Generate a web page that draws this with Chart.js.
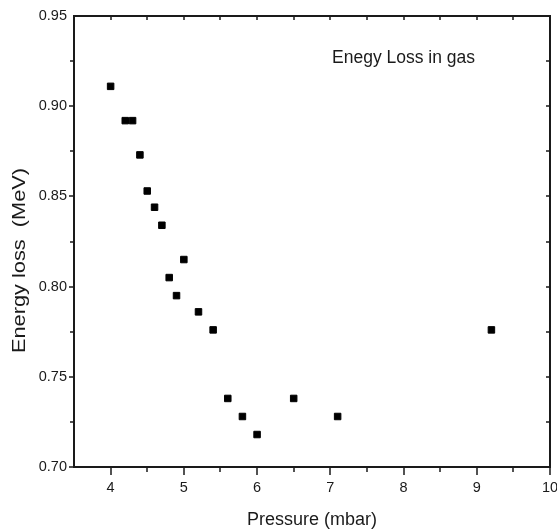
<!DOCTYPE html>
<html>
<head>
<meta charset="utf-8">
<script src="https://cdn.jsdelivr.net/npm/chart.js@4.4.1/dist/chart.umd.min.js"></script>
<style>
  html, body { margin: 0; padding: 0; background: #fff; }
  #wrap { width: 557px; height: 531px; position: relative; }
</style>
</head>
<body>
<div id="wrap"><canvas id="c"></canvas></div>
<script>
// ---- data ----
const pressure = [4.0, 4.2, 4.3, 4.4, 4.5, 4.6, 4.7, 4.8, 4.9, 5.0, 5.2, 5.4, 5.6, 5.8, 6.0, 6.5, 7.1, 9.2];
const energyLoss = [0.911, 0.892, 0.892, 0.873, 0.853, 0.844, 0.834, 0.805, 0.795, 0.815, 0.786, 0.776, 0.738, 0.728, 0.718, 0.738, 0.728, 0.776];
const xTickLabels = [4, 5, 6, 7, 8, 9, 10];
const yTickLabels = [0.70, 0.75, 0.80, 0.85, 0.90, 0.95];
const xRange = [3.5, 10];
const yRange = [0.70, 0.95];
const annotationText = 'Enegy Loss in gas';
const annotationPos = [8.0, 0.9265];
const xTitle = 'Pressure (mbar)';
const yTitle = 'Energy loss  (MeV)';

const FONT = "'Liberation Sans', Arial, sans-serif";
const INK = '#1a1a1a';

const points = pressure.map((x, i) => ({ x: x, y: energyLoss[i] }));

const framePlugin = {
  id: 'frameTicks',
  afterDraw(chart) {
    const ctx = chart.ctx;
    const a = chart.chartArea;
    const xs = chart.scales.x, ys = chart.scales.y;
    ctx.save();
    ctx.strokeStyle = INK;
    // ticks
    ctx.lineWidth = 1.5;
    ctx.beginPath();
    const nx = Math.round((xRange[1] - xRange[0]) / 0.5);
    for (let k = 1; k <= nx; k++) {
      const v = xRange[0] + k * 0.5;
      const px = Math.round(xs.getPixelForValue(v));
      const major = Math.abs(v - Math.round(v)) < 1e-6;
      ctx.moveTo(px, a.bottom);
      ctx.lineTo(px, a.bottom + (major ? 8 : 5));
      if (k < nx) {
        ctx.moveTo(px, a.top);
        ctx.lineTo(px, a.top + 4);
      }
    }
    const ny = Math.round((yRange[1] - yRange[0]) / 0.025);
    for (let k = 0; k <= ny; k++) {
      const v = yRange[0] + k * 0.025;
      const py = Math.round(ys.getPixelForValue(v));
      const major = k % 2 === 0;
      if (k < ny) {
        ctx.moveTo(a.left, py);
        ctx.lineTo(a.left - (major ? 5 : 4), py);
      }
      if (k > 0 && k < ny) {
        ctx.moveTo(a.right, py);
        ctx.lineTo(a.right - 4, py);
      }
    }
    ctx.stroke();
    // frame
    ctx.lineWidth = 2;
    ctx.strokeRect(a.left, a.top, a.right - a.left, a.bottom - a.top);
    // annotation
    ctx.fillStyle = INK;
    ctx.font = "17.5px " + FONT;
    ctx.textAlign = 'center';
    ctx.textBaseline = 'middle';
    ctx.fillText(annotationText, xs.getPixelForValue(annotationPos[0]), ys.getPixelForValue(annotationPos[1]));
    // y axis title (rotated, slightly elongated as in the source figure)
    ctx.font = "18px " + FONT;
    const w = ctx.measureText(yTitle).width;
    const targetLen = 185;
    ctx.translate(20, 260.5);
    ctx.rotate(-Math.PI / 2);
    ctx.scale(targetLen / w, 1);
    ctx.fillText(yTitle, 0, 0);
    ctx.restore();
  }
};

new Chart(document.getElementById('c'), {
  type: 'scatter',
  data: {
    datasets: [{
      data: points,
      pointStyle: 'rect',
      pointRadius: 4.6,
      pointHoverRadius: 4.6,
      backgroundColor: '#000',
      borderColor: '#000',
      borderWidth: 1
    }]
  },
  options: {
    responsive: true,
    maintainAspectRatio: false,
    animation: false,
    events: [],
    layout: { padding: { top: 16, right: 7, left: 0, bottom: 0 } },
    plugins: { legend: { display: false }, tooltip: { enabled: false } },
    scales: {
      x: {
        type: 'linear',
        min: xRange[0], max: xRange[1],
        afterBuildTicks(scale) { scale.ticks = xTickLabels.map(v => ({ value: v })); },
        afterFit(scale) { scale.height = 64; scale.paddingRight = 0; scale.paddingLeft = 0; },
        grid: { display: false, drawTicks: false },
        border: { display: false },
        ticks: {
          color: INK,
          font: { family: FONT, size: 14.5 },
          padding: 12,
          maxRotation: 0,
          autoSkip: false,
          callback: v => String(v)
        },
        title: {
          display: true, text: xTitle, color: INK,
          font: { family: FONT, size: 18, lineHeight: 1.2 },
          padding: { top: 0, bottom: 0 }
        }
      },
      y: {
        type: 'linear',
        min: yRange[0], max: yRange[1],
        afterBuildTicks(scale) { scale.ticks = yTickLabels.map(v => ({ value: v })); },
        afterFit(scale) { scale.width = 74; scale.paddingTop = 0; scale.paddingBottom = 0; },
        grid: { display: false, drawTicks: false },
        border: { display: false },
        ticks: {
          color: INK,
          font: { family: FONT, size: 14.5 },
          padding: 7,
          autoSkip: false,
          callback: v => Number(v).toFixed(2)
        },
        title: { display: false }
      }
    }
  },
  plugins: [framePlugin]
});
</script>
</body>
</html>
